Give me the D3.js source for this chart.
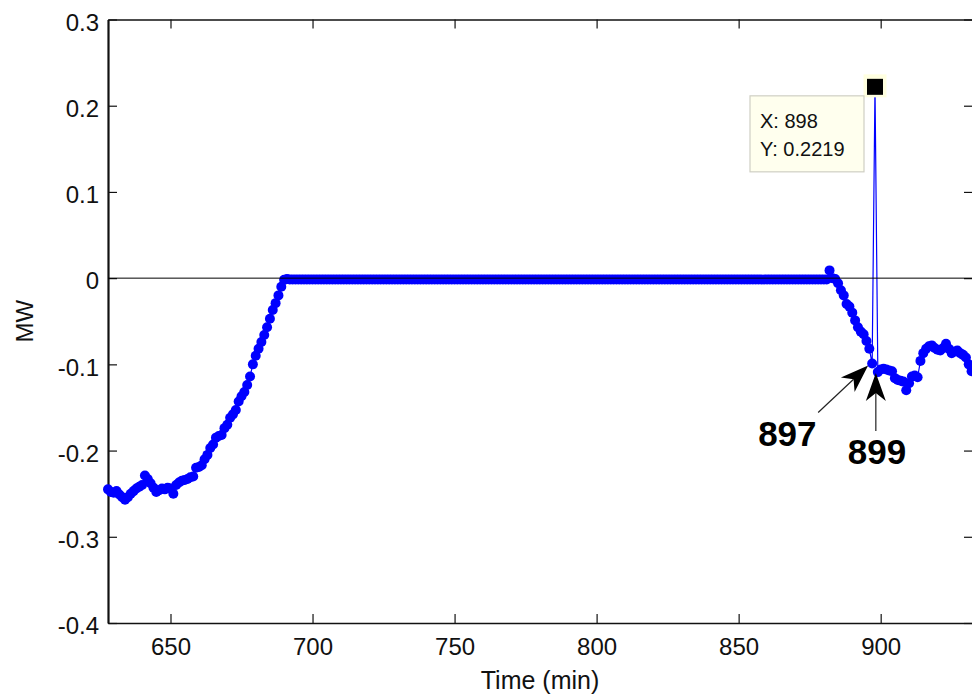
<!DOCTYPE html>
<html>
<head>
<meta charset="utf-8">
<script src="https://cdn.jsdelivr.net/npm/d3@7"></script>
<style>
  body { margin: 0; background: #fff; }
  text { font-family: "Liberation Sans", Arial, sans-serif; }
</style>
</head>
<body>
<script>
var width = 972;
var height = 694;

// minutes sampled once per minute
const minutes = d3.range(628, 933);
// power (MW), one value per minute
const mw = [
  // 628 - 691 ramp up
  -0.245, -0.248, -0.249, -0.247, -0.251, -0.254, -0.257, -0.254, -0.250, -0.247,
  -0.244, -0.242, -0.240, -0.229, -0.233, -0.238, -0.243, -0.248, -0.246, -0.244,
  -0.245, -0.243, -0.244, -0.250, -0.240, -0.237, -0.235, -0.234, -0.233, -0.231,
  -0.230, -0.220, -0.219, -0.217, -0.210, -0.205, -0.197, -0.193, -0.185, -0.183,
  -0.182, -0.174, -0.170, -0.162, -0.158, -0.153, -0.143, -0.137, -0.132, -0.124,
  -0.114, -0.100, -0.090, -0.082, -0.074, -0.066, -0.057, -0.047, -0.037, -0.029,
  -0.020, -0.010, -0.002, -0.001,
  // 692 - 881 flat
  -0.0015, -0.0015, -0.0015, -0.0015, -0.0015, -0.0015, -0.0015, -0.0015, -0.0015, -0.0015,
  -0.0015, -0.0015, -0.0015, -0.0015, -0.0015, -0.0015, -0.0015, -0.0015, -0.0015, -0.0015,
  -0.0015, -0.0015, -0.0015, -0.0015, -0.0015, -0.0015, -0.0015, -0.0015, -0.0015, -0.0015,
  -0.0015, -0.0015, -0.0015, -0.0015, -0.0015, -0.0015, -0.0015, -0.0015, -0.0015, -0.0015,
  -0.0015, -0.0015, -0.0015, -0.0015, -0.0015, -0.0015, -0.0015, -0.0015, -0.0015, -0.0015,
  -0.0015, -0.0015, -0.0015, -0.0015, -0.0015, -0.0015, -0.0015, -0.0015, -0.0015, -0.0015,
  -0.0015, -0.0015, -0.0015, -0.0015, -0.0015, -0.0015, -0.0015, -0.0015, -0.0015, -0.0015,
  -0.0015, -0.0015, -0.0015, -0.0015, -0.0015, -0.0015, -0.0015, -0.0015, -0.0015, -0.0015,
  -0.0015, -0.0015, -0.0015, -0.0015, -0.0015, -0.0015, -0.0015, -0.0015, -0.0015, -0.0015,
  -0.0015, -0.0015, -0.0015, -0.0015, -0.0015, -0.0015, -0.0015, -0.0015, -0.0015, -0.0015,
  -0.0015, -0.0015, -0.0015, -0.0015, -0.0015, -0.0015, -0.0015, -0.0015, -0.0015, -0.0015,
  -0.0015, -0.0015, -0.0015, -0.0015, -0.0015, -0.0015, -0.0015, -0.0015, -0.0015, -0.0015,
  -0.0015, -0.0015, -0.0015, -0.0015, -0.0015, -0.0015, -0.0015, -0.0015, -0.0015, -0.0015,
  -0.0015, -0.0015, -0.0015, -0.0015, -0.0015, -0.0015, -0.0015, -0.0015, -0.0015, -0.0015,
  -0.0015, -0.0015, -0.0015, -0.0015, -0.0015, -0.0015, -0.0015, -0.0015, -0.0015, -0.0015,
  -0.0015, -0.0015, -0.0015, -0.0015, -0.0015, -0.0015, -0.0015, -0.0015, -0.0015, -0.0015,
  -0.0015, -0.0015, -0.0015, -0.0015, -0.0015, -0.0015, -0.0015, -0.0015, -0.0015, -0.0015,
  -0.0015, -0.0015, -0.0015, -0.0015, -0.0015, -0.0015, -0.0015, -0.0015, -0.0015, -0.0015,
  -0.0015, -0.0015, -0.0015, -0.0015, -0.0015, -0.0015, -0.0015, -0.0015, -0.0015, -0.0015,
  // 882 - 932 drop, spike, recovery
  0.009, 0.000, -0.001, -0.006, -0.014, -0.020, -0.030, -0.033, -0.040, -0.049,
  -0.057, -0.062, -0.065, -0.073, -0.082, -0.099, 0.2219, -0.109, -0.106, -0.105,
  -0.106, -0.107, -0.108, -0.116, -0.118, -0.119, -0.120, -0.130, -0.122, -0.114,
  -0.113, -0.115, -0.096, -0.087, -0.082, -0.079, -0.078, -0.081, -0.083, -0.084,
  -0.081, -0.076, -0.082, -0.087, -0.085, -0.084, -0.087, -0.089, -0.092, -0.100,
  -0.108
];

const xTicks = [650, 700, 750, 800, 850, 900];
const yTicks = [-0.4, -0.3, -0.2, -0.1, 0, 0.1, 0.2, 0.3];
const yTickLabels = ["-0.4", "-0.3", "-0.2", "-0.1", "0", "0.1", "0.2", "0.3"];

// data tip and arrow annotations
const tipMinute = 898;
const arrowNotes = [
  { minute: 897, label: "897" },
  { minute: 899, label: "899" }
];

var data = minutes.map((m, i) => [m, mw[i]]);

var svg = d3.select("body").append("svg")
  .attr("width", width)
  .attr("height", height);

var xScale = d3.scaleLinear().domain([628, 932.5]).range([108, 973]);
var yScale = d3.scaleLinear().domain([-0.4, 0.3]).range([623, 19.5]);

// axes, ticks pointing inward like matlab
var gx = svg.append("g")
  .attr("transform", "translate(0," + yScale(-0.4) + ")")
  .call(d3.axisBottom(xScale).tickValues(xTicks).tickSizeInner(-9).tickSizeOuter(0).tickPadding(15));
var gxTop = svg.append("g")
  .attr("transform", "translate(0," + yScale(0.3) + ")")
  .call(d3.axisTop(xScale).tickValues(xTicks).tickFormat("").tickSizeInner(-9).tickSizeOuter(0));
var gy = svg.append("g")
  .attr("transform", "translate(" + xScale(628) + ",0)")
  .call(d3.axisLeft(yScale).tickValues(yTicks).tickFormat((d, i) => yTickLabels[i])
    .tickSizeInner(-9).tickSizeOuter(0).tickPadding(9));
var gyRight = svg.append("g")
  .attr("transform", "translate(" + xScale(932.5) + ",0)")
  .call(d3.axisRight(yScale).tickValues(yTicks).tickFormat("").tickSizeInner(-9).tickSizeOuter(0));

svg.selectAll(".tick line").attr("stroke", "#111").attr("stroke-width", 1.2);
svg.selectAll(".domain").attr("stroke", "#111").attr("stroke-width", 1.3);
gy.select(".domain").attr("stroke-width", 2.2);
svg.selectAll(".tick text").attr("font-size", "24px").attr("fill", "#111");
gy.selectAll(".tick text").attr("dy", "0.45em");

// axis labels
svg.append("text")
  .attr("x", (xScale(628) + width) / 2)
  .attr("y", 689)
  .attr("text-anchor", "middle")
  .attr("font-size", "25px")
  .attr("fill", "#111")
  .text("Time (min)");

svg.append("text")
  .attr("transform", "translate(33," + (yScale(-0.05)) + ") rotate(-90)")
  .attr("text-anchor", "middle")
  .attr("font-size", "24px")
  .attr("fill", "#111")
  .text("MW");

// series line + markers
svg.append("path")
  .datum(data)
  .attr("fill", "none")
  .attr("stroke", "#0000ff")
  .attr("stroke-width", 1.2)
  .attr("d", d3.line().x(d => xScale(d[0])).y(d => yScale(d[1])));

svg.append("g").selectAll("circle")
  .data(data)
  .join("circle")
  .attr("cx", d => xScale(d[0]))
  .attr("cy", d => yScale(d[1]))
  .attr("r", 5)
  .attr("fill", "#0000ff");

// zero line
svg.append("line")
  .attr("x1", xScale(628)).attr("x2", xScale(932.5))
  .attr("y1", yScale(0)).attr("y2", yScale(0))
  .attr("stroke", "#000")
  .attr("stroke-width", 1);

// data tip
var tip = data[minutes.indexOf(tipMinute)];
var tx = xScale(tip[0]), ty = yScale(tip[1]);
svg.append("rect")
  .attr("x", tx - 11.5).attr("y", ty - 12.5)
  .attr("width", 23).attr("height", 23)
  .attr("fill", "#ffffe0");
svg.append("rect")
  .attr("x", tx - 8).attr("y", ty - 8)
  .attr("width", 16).attr("height", 16)
  .attr("fill", "#000");
svg.append("rect")
  .attr("x", tx - 125).attr("y", ty + 9)
  .attr("width", 114).attr("height", 76)
  .attr("fill", "#ffffee")
  .attr("stroke", "#cfcfc4")
  .attr("stroke-width", 1.2);
svg.append("text")
  .attr("x", tx - 115).attr("y", ty + 41)
  .attr("font-size", "20px")
  .attr("fill", "#111")
  .text("X: " + tip[0]);
svg.append("text")
  .attr("x", tx - 115).attr("y", ty + 69)
  .attr("font-size", "20px")
  .attr("fill", "#111")
  .text("Y: " + tip[1].toFixed(4));

// arrow annotations
function arrow(tail, tipPt) {
  var dx = tipPt[0] - tail[0], dy = tipPt[1] - tail[1];
  var len = Math.sqrt(dx * dx + dy * dy);
  var ux = dx / len, uy = dy / len;
  var px = -uy, py = ux;
  var L = 28, W = 10, N = 20;
  var bx = tipPt[0] - ux * L, by = tipPt[1] - uy * L;
  var nx = tipPt[0] - ux * N, ny = tipPt[1] - uy * N;
  svg.append("line")
    .attr("x1", tail[0]).attr("y1", tail[1])
    .attr("x2", nx).attr("y2", ny)
    .attr("stroke", "#222").attr("stroke-width", 1.2);
  svg.append("path")
    .attr("d", "M" + tipPt[0] + "," + tipPt[1] +
      "L" + (bx + px * W) + "," + (by + py * W) +
      "L" + nx + "," + ny +
      "L" + (bx - px * W) + "," + (by - py * W) + "Z")
    .attr("fill", "#000");
}

var p897 = data[minutes.indexOf(arrowNotes[0].minute)];
var a1x = xScale(p897[0]), a1y = yScale(p897[1]);
arrow([a1x - 54, a1y + 49], [a1x - 4, a1y + 2]);
svg.append("text")
  .attr("x", a1x - 114).attr("y", a1y + 83)
  .attr("font-size", "35px").attr("font-weight", "bold").attr("fill", "#000")
  .text(arrowNotes[0].label);

var p899 = data[minutes.indexOf(arrowNotes[1].minute)];
var a2x = xScale(p899[0]), a2y = yScale(p899[1]);
arrow([a2x - 2, a2y + 59], [a2x - 2, a2y + 1]);
svg.append("text")
  .attr("x", a2x - 30).attr("y", a2y + 92)
  .attr("font-size", "35px").attr("font-weight", "bold").attr("fill", "#000")
  .text(arrowNotes[1].label);
</script>
</body>
</html>
